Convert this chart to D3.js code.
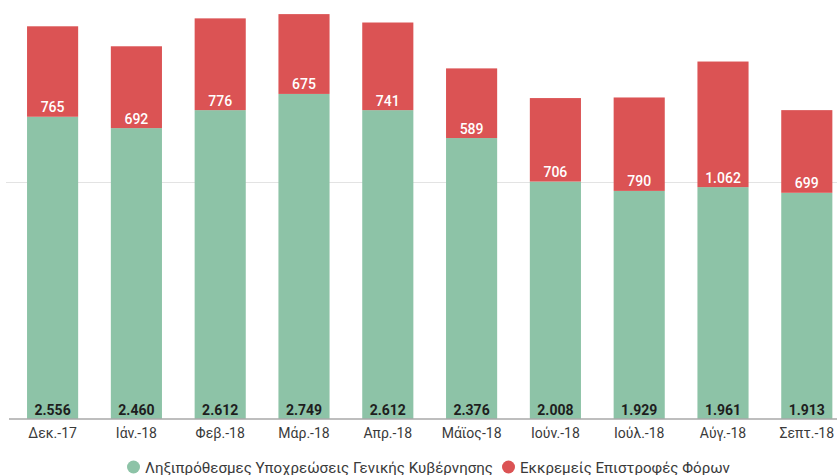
<!DOCTYPE html>
<html>
<head>
<meta charset="utf-8">
<script src="https://cdn.jsdelivr.net/npm/d3@7"></script>
<style>
  html, body { margin: 0; padding: 0; background: #fff; overflow: hidden; }
  svg { display: block; font-family: Roboto, "Noto Sans", sans-serif; }
</style>
</head>
<body>
<svg id="chart" width="837" height="475"></svg>
<script>
// Monthly data (million €)
const months = ["Δεκ.-17", "Ιάν.-18", "Φεβ.-18", "Μάρ.-18", "Απρ.-18", "Μάϊος-18", "Ιούν.-18", "Ιούλ.-18", "Αύγ.-18", "Σεπτ.-18"];
const arrears = [2556, 2460, 2612, 2749, 2612, 2376, 2008, 1929, 1961, 1913];
const taxRefunds = [765, 692, 776, 675, 741, 589, 706, 790, 1062, 699];
const seriesNames = ["Ληξιπρόθεσμες Υποχρεώσεις Γενικής Κυβέρνησης", "Εκκρεμείς Επιστροφές Φόρων"];
const gridTicks = [2000];

const colors = ["#8dc3a7", "#db5354"];
const fmt = d3.formatLocale({ decimal: ",", thousands: ".", grouping: [3], currency: ["", " €"] }).format(",d");

const svg = d3.select("#chart");

const x = d3.scaleBand()
  .domain(months)
  .range([10.7, 848.7])
  .paddingInner(0.39)
  .paddingOuter(0.195);

const y = d3.scaleLinear()
  .domain([0, 4000])
  .range([419, -54]);

// horizontal gridline
svg.append("g")
  .selectAll("line")
  .data(gridTicks)
  .join("line")
  .attr("x1", 6).attr("x2", 837)
  .attr("y1", d => y(d)).attr("y2", d => y(d))
  .attr("stroke", "#e3e3e3").attr("stroke-width", 1);

const rows = months.map((m, i) => ({ month: m, a: arrears[i], r: taxRefunds[i] }));

// stacked bars
const bars = svg.append("g");
bars.selectAll("rect.a")
  .data(rows).join("rect")
  .attr("class", "a")
  .attr("x", d => x(d.month)).attr("width", x.bandwidth())
  .attr("y", d => y(d.a)).attr("height", d => y(0) - y(d.a))
  .attr("fill", colors[0]);

bars.selectAll("rect.r")
  .data(rows).join("rect")
  .attr("class", "r")
  .attr("x", d => x(d.month)).attr("width", x.bandwidth())
  .attr("y", d => y(d.a + d.r)).attr("height", d => y(d.a) - y(d.a + d.r))
  .attr("fill", colors[1]);

// value labels
bars.selectAll("text.a")
  .data(rows).join("text")
  .attr("class", "a")
  .attr("x", d => x(d.month) + x.bandwidth() / 2)
  .attr("y", y(0) - 4)
  .attr("text-anchor", "middle")
  .attr("font-size", 14).attr("font-weight", 700)
  .attr("fill", "#1e1e1e")
  .text(d => fmt(d.a));

bars.selectAll("text.r")
  .data(rows).join("text")
  .attr("class", "r")
  .attr("x", d => x(d.month) + x.bandwidth() / 2)
  .attr("y", d => y(d.a) - 4.5)
  .attr("text-anchor", "middle")
  .attr("font-size", 14).attr("font-weight", 500)
  .attr("fill", "#ffffff")
  .text(d => fmt(d.r));

// baseline and x axis
const xAxis = svg.append("g")
  .attr("transform", `translate(0,${y(0)})`)
  .call(d3.axisBottom(x).tickSize(0).tickPadding(9));
xAxis.select(".domain").remove();
xAxis.selectAll("text")
  .attr("font-family", "Roboto, sans-serif")
  .attr("font-size", 14)
  .attr("fill", "#3a3a3a");
svg.append("line")
  .attr("x1", 9).attr("x2", 837)
  .attr("y1", y(0)).attr("y2", y(0))
  .attr("stroke", "#a8a8a8").attr("stroke-width", 1.5);

// legend
const legend = svg.append("g").attr("transform", "translate(0,467)");
const legendX = [133.5, 508.5];
seriesNames.forEach((name, i) => {
  const g = legend.append("g").attr("transform", `translate(${legendX[i]},0)`);
  g.append("circle").attr("r", 6.5).attr("fill", colors[i]);
  g.append("text")
    .attr("x", 11.5).attr("y", 5.5)
    .attr("font-size", 15.1)
    .attr("fill", "#3a3a3a")
    .text(name);
});
</script>
</body>
</html>
